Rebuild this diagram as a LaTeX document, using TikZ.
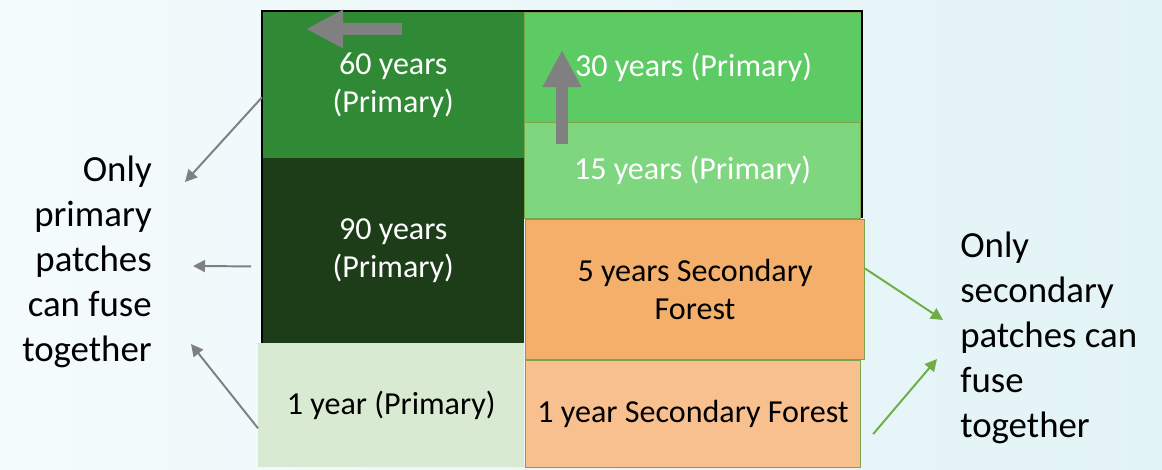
\documentclass[tikz,border=0pt]{standalone}
\usepackage{fontspec}
\setmainfont{Carlito}
\usetikzlibrary{arrows.meta}

\definecolor{bgleft}{RGB}{244,251,252}
\definecolor{bgright}{RGB}{226,243,246}
\definecolor{green60}{RGB}{47,137,53}
\definecolor{green90}{RGB}{28,61,23}
\definecolor{green30}{RGB}{92,203,99}
\definecolor{green15}{RGB}{126,214,127}
\definecolor{green1}{RGB}{217,234,211}
\definecolor{orange5}{RGB}{244,176,106}
\definecolor{orange1}{RGB}{248,192,143}
\definecolor{edgeolive}{RGB}{122,165,74}
\definecolor{arrowgray}{RGB}{128,128,128}
\definecolor{arrowgreen}{RGB}{112,173,71}

\begin{document}
\begin{tikzpicture}[x=0.025cm, y=-0.025cm]
% one unit is one pixel of the slide
\def\pxu{0.025cm}
\tikzset{
  patch/.style 2 args={anchor=north west, inner sep=0pt, align=center,
    minimum width=#1*\pxu, minimum height=#2*\pxu,
    font=\fontsize{22.8}{27}\selectfont},
  rim/.style={draw=edgeolive, line width=0.8pt},
  note/.style={inner sep=0pt, font=\fontsize{26.2}{32}\selectfont},
  fuse/.style={arrowgray, line width=1.4pt, -{Triangle[length=0.3cm, width=0.3cm]}},
  fusesec/.style={arrowgreen, line width=1.4pt, -{Triangle[length=0.3cm, width=0.3cm]}},
  move/.style={arrowgray, line width=12*\pxu, -{Triangle[length=0.925cm, width=0.9cm]}}
}

% background
\useasboundingbox (0,0) rectangle (1162,469);
\shade[left color=bgleft, right color=bgright] (0,0) rectangle (1162,469);

% primary patches, left column
\node (p60) [patch={262}{146}, fill=green60, text=white] at (262,12) {60 years\\(Primary)};
\node (p90) [patch={262}{185}, fill=green90, text=white] at (262,158) {90 years\\(Primary)};
\node (p1) [patch={266}{124}, fill=green1] at (258,343) {1 year (Primary)};

% right column
\node (p30) [patch={338}{110}, fill=green30, text=white, rim] at (524,12) {30 years (Primary)};
\node (p15) [patch={336}{96}, fill=green15, text=white, rim] at (524,122) {15 years (Primary)};
\node (s5) [patch={339}{140}, fill=orange5, rim] at (525,219) {5 years Secondary\\Forest};
\node (s1) [patch={335}{107}, fill=orange1, rim] at (525,360) {1 year Secondary Forest};

% frame
\draw[black, line width=1.2pt] (262,343) -- (262,11) -- (862,11) -- (862,218);

% growth arrows
\draw[move] (402,29) -- (306,29);
\draw[move] (562,144) -- (562,50);

% side notes (base = last line)
\node (primnote) [note, anchor=base east, align=right] at (152,361)
  {Only\\primary\\patches\\can fuse\\together};
\node (secnote) [note, anchor=base west, align=left] at (960,437)
  {Only\\secondary\\patches can\\fuse\\together};

\coordinate (tipa) at (185,182);
\coordinate (tipb) at (193,266);
\coordinate (tipc) at (191,344);
\coordinate (tipd) at (943,320);
\coordinate (tipe) at (937,359);

\draw[fuse] ([yshift=-0.3cm]p60.west) -- (tipa);
\draw[fuse] ([xshift=-0.275cm, yshift=-0.39cm]p90.west) -- (tipb);
\draw[fuse] ([yshift=-0.575cm]p1.west) -- (tipc);
\draw[fusesec] ([yshift=0.525cm]s5.east) -- (tipd);
\draw[fusesec] ([xshift=0.3cm, yshift=-0.5cm]s1.east) -- (tipe);
\end{tikzpicture}
\end{document}
